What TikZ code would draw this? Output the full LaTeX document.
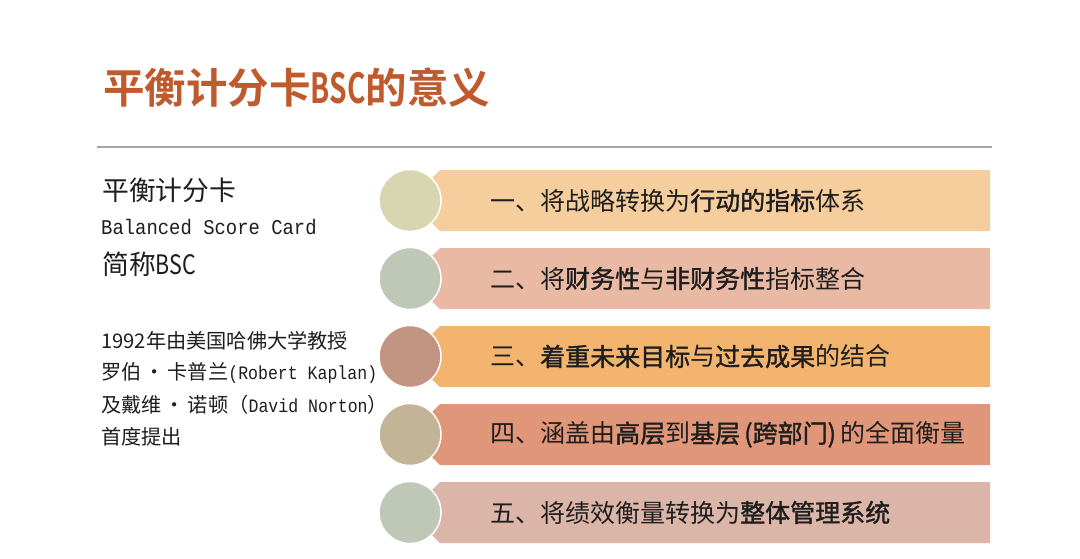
\documentclass[tikz,border=0pt]{standalone}
\usepackage{fontspec}
\setmainfont{Noto Sans CJK SC}
\newfontfamily\cjk{Noto Sans CJK SC}
\newfontfamily\cjkb{Noto Sans CJK SC}[FakeBold=1.4]
\newfontfamily\titlefont{Noto Sans CJK SC Bold}
\newfontfamily\titlenarrow{Noto Sans CJK SC Bold}[FakeStretch=0.68]
\newfontfamily\cjknarrow{Noto Sans CJK SC}[FakeStretch=0.8]
\newfontfamily\mono{Liberation Mono}[FakeStretch=0.87]
\newfontfamily\monowide{Liberation Mono}[FakeStretch=0.9]
\definecolor{titlec}{HTML}{BF5A2C}
\definecolor{rulec}{HTML}{A6A6A6}
\definecolor{textc}{HTML}{1E1E1E}
\definecolor{barA}{HTML}{F6CD9C}
\definecolor{barB}{HTML}{EAB9A3}
\definecolor{barC}{HTML}{F2B46E}
\definecolor{barD}{HTML}{E09679}
\definecolor{barE}{HTML}{DBB6A8}
\definecolor{dotA}{HTML}{D8D6B0}
\definecolor{dotB}{HTML}{BFC7B7}
\definecolor{dotC}{HTML}{C29582}
\definecolor{dotD}{HTML}{C3B497}
\definecolor{dotE}{HTML}{BFC7B7}
\tikzset{
  txt/.style={anchor=west, inner sep=0pt, text=textc},
  bartxt/.style={anchor=west, inner sep=0pt, text=textc, font=\cjk\fontsize{25}{25}\selectfont},
  dot/.style={circle, minimum size=62pt, inner sep=0pt, draw=white, line width=1.5pt},
}
\newcommand{\bb}[1]{{\cjkb #1}}
\newcommand{\barshape}[2]{% top y, color
  \fill[#2] (440,#1) -- (990,#1) -- (990,#1+61) -- (440,#1+61) -- (428,#1+49) -- (428,#1+12) -- cycle;
}
\begin{document}
\begin{tikzpicture}[x=1pt,y=-1pt]
\useasboundingbox (0,0) rectangle (1080,558);
\fill[white] (0,0) rectangle (1080,558);
% title
\node[anchor=west, inner sep=0pt, text=titlec, font=\titlefont\fontsize{41.5}{41.5}\selectfont] (title) at (103,88) {平衡计分卡{\titlenarrow BSC}的意义};
\coordinate (ruleL) at (97,147);
\coordinate (ruleR) at (992,147);
\draw[rulec, line width=1.2pt] (ruleL) -- (ruleR);
% left text
\node[txt, font=\cjk\fontsize{26.8}{26.8}\selectfont] (l1) at (102,190) {平衡计分卡};
\node[txt, font=\monowide\fontsize{21}{21}\selectfont] (l2) at (101,227) {Balanced Score Card};
\node[txt, font=\cjk\fontsize{26.8}{26.8}\selectfont] (l3) at (102,264) {简称{\cjknarrow BSC}};
\node[txt, font=\cjk\fontsize{20.2}{20.2}\selectfont] (l4) at (101,341) {1992年由美国哈佛大学教授};
\node[txt, font=\cjk\fontsize{20.2}{20.2}\selectfont] (l5) at (101,373) {罗伯\hspace{3pt}·\hspace{3pt}卡普兰{\mono\fontsize{19}{19}\selectfont(Robert Kaplan)}};
\node[txt, font=\cjk\fontsize{20.2}{20.2}\selectfont] (l6) at (101,405) {及戴维\hspace{3pt}·\hspace{3pt}诺顿（{\mono\fontsize{19}{19}\selectfont David Norton}）};
\node[txt, font=\cjk\fontsize{20.2}{20.2}\selectfont] (l7) at (101,437) {首度提出};
% bars
\barshape{170}{barA}
\barshape{248}{barB}
\barshape{326}{barC}
\barshape{404}{barD}
\barshape{482}{barE}
\node[dot, fill=dotA] (c1) at (410,200.5) {};
\node[dot, fill=dotB] (c2) at (410,278.5) {};
\node[dot, fill=dotC] (c3) at (410,356.5) {};
\node[dot, fill=dotD] (c4) at (410,434.5) {};
\node[dot, fill=dotE] (c5) at (410,512.5) {};
\node[bartxt] (t1) at (490,200.5) {一、将战略转换为\bb{行动的指标}体系};
\node[bartxt] (t2) at (490,278.5) {二、将\bb{财务性}与\bb{非财务性}指标整合};
\node[bartxt] (t3) at (490,356.5) {三、\bb{着重未来目标}与\bb{过去成果}的结合};
\node[bartxt] (t4) at (490,434.5) {四、涵盖由\bb{高层}到\bb{基层\hspace{4pt}(跨部门)\hspace{4pt}}的全面衡量};
\node[bartxt] (t5) at (490,512.5) {五、将绩效衡量转换为\bb{整体管理系统}};
\end{tikzpicture}
\end{document}
